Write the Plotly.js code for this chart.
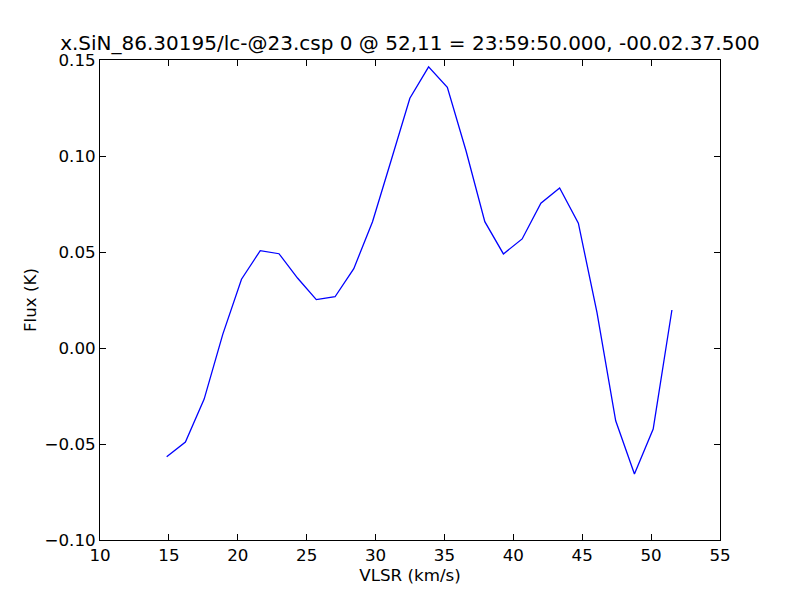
<!DOCTYPE html>
<html>
<head>
<meta charset="utf-8">
<script src="https://cdn.plot.ly/plotly-3.0.1.min.js"></script>
<style>html,body{margin:0;padding:0;background:#fff;}#chart{width:800px;height:600px;}</style>
</head>
<body>
<div id="chart"></div>
<script>
const velocity = [14.84, 16.20, 17.56, 18.91, 20.27, 21.63, 22.99, 24.35, 25.70, 27.06,
  28.42, 29.78, 31.14, 32.49, 33.85, 35.21, 36.57, 37.93, 39.28, 40.64,
  42.00, 43.36, 44.72, 46.07, 47.43, 48.79, 50.15, 51.51];
const flux = [-0.0566, -0.0490, -0.0266, 0.0071, 0.0358, 0.0507, 0.0491, 0.0363, 0.0252, 0.0267,
  0.0413, 0.0658, 0.0979, 0.1301, 0.1464, 0.1358, 0.1026, 0.0658, 0.0490, 0.0568,
  0.0754, 0.0833, 0.0650, 0.0185, -0.0379, -0.0656, -0.0422, 0.0198];
const xTicks = [10, 15, 20, 25, 30, 35, 40, 45, 50, 55];
const yTicks = [-0.10, -0.05, 0.00, 0.05, 0.10, 0.15];
const yTickText = ["\u22120.10", "\u22120.05", "0.00", "0.05", "0.10", "0.15"];
const chartTitle = "x.SiN_86.30195/lc-@23.csp 0 @ 52,11 = 23:59:50.000, -00.02.37.500";

const font = {family: "DejaVu Sans, sans-serif", size: 16.7, color: "#000"};
const axisCommon = {
  showgrid: false, zeroline: false, showline: true, linecolor: "#000", linewidth: 1,
  mirror: "ticks", ticks: "inside", ticklen: 6, tickwidth: 1, tickcolor: "#000",
  tickfont: font
};
Plotly.newPlot("chart", [{
  x: velocity, y: flux, type: "scatter", mode: "lines",
  line: {color: "#0000ff", width: 1.3}, hoverinfo: "skip"
}], {
  width: 800, height: 600,
  margin: {l: 100, r: 80, t: 60, b: 60},
  paper_bgcolor: "#fff", plot_bgcolor: "#fff",
  showlegend: false,
  font: font,
  title: {text: chartTitle, font: {family: "DejaVu Sans, sans-serif", size: 20, color: "#000"},
    x: 0.5, xref: "paper", y: 1 - 43/600, yref: "container", yanchor: "middle"},
  xaxis: Object.assign({}, axisCommon, {
    range: [10, 55], tickvals: xTicks, ticktext: xTicks.map(String),
    title: {text: "VLSR (km/s)", font: font, standoff: 1}
  }),
  yaxis: Object.assign({}, axisCommon, {
    range: [-0.10, 0.15], tickvals: yTicks, ticktext: yTickText,
    title: {text: "Flux (K)", font: font, standoff: 3}
  })
}, {staticPlot: true});
</script>
</body>
</html>
